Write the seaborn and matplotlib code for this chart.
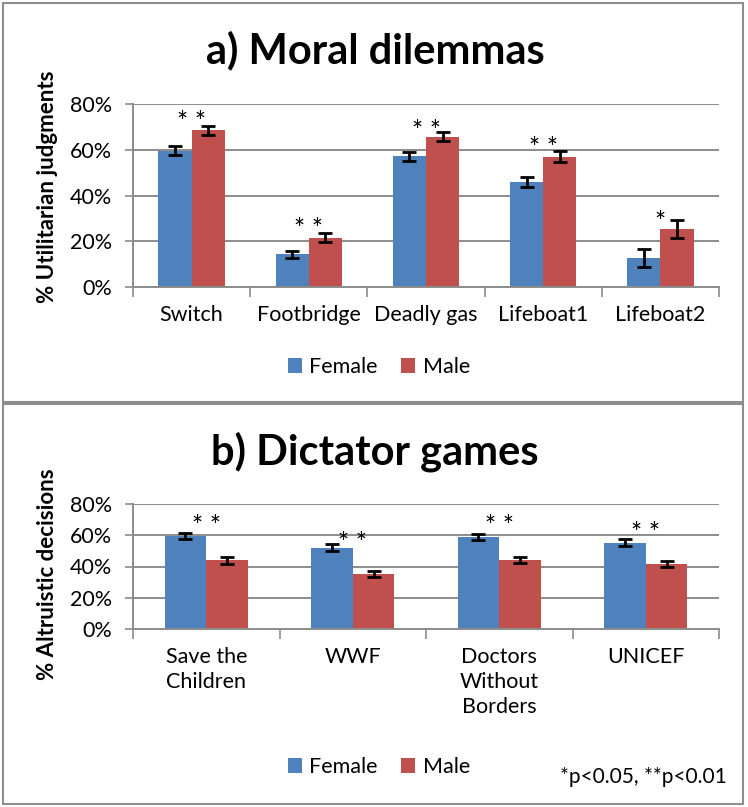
import pandas as pd
import seaborn as sns
import matplotlib.pyplot as plt
from matplotlib.ticker import PercentFormatter, FixedLocator
from matplotlib.patches import Rectangle
from matplotlib.transforms import offset_copy

# Dados (percentagens)
sexos = ['Female', 'Male']

dilemas = ['Switch', 'Footbridge', 'Deadly gas', 'Lifeboat1', 'Lifeboat2']
dilemas_female = [59.5, 14.3, 57.1, 45.8, 12.7]
dilemas_male = [68.5, 21.6, 65.7, 57.0, 25.4]
dilemas_err_female = [2.0, 1.5, 2.0, 2.2, 4.1]
dilemas_err_male = [2.0, 2.0, 2.0, 2.3, 4.1]
dilemas_sig = ['**', '**', '**', '**', '*']
dilemas_sig_y = [73.9, 27.1, 70.1, 62.5, 30.0]

jogos = ['Save the\nChildren', 'WWF', 'Doctors\nWithout\nBorders', 'UNICEF']
jogos_female = [59.3, 52.1, 58.9, 55.3]
jogos_male = [43.9, 35.2, 44.2, 41.4]
jogos_err_female = [1.9, 2.0, 1.9, 2.0]
jogos_err_male = [2.0, 2.0, 2.0, 2.0]
jogos_sig = ['**', '**', '**', '**']
jogos_sig_y = [68.7, 57.4, 68.7, 63.8]

cores = ['#4F81BD', '#C0504D']
cinza = '#8C8C8C'
W, H = 748, 807

plt.rcParams['font.family'] = ['Lato', 'DejaVu Sans']


def monta_df(cats, fem, mas):
    return pd.DataFrame({
        'cat': cats * 2,
        'sexo': ['Female'] * len(cats) + ['Male'] * len(cats),
        'valor': fem + mas,
    })


def painel(fig, rect_px, cats, fem, mas, err_f, err_m, sig, sig_y,
           titulo, ylabel, title_y, ylab_y, leg_y):
    left, top, right, bottom = rect_px
    ax = fig.add_axes([left / W, 1 - bottom / H, (right - left) / W, (bottom - top) / H])
    df = monta_df(cats, fem, mas)
    sns.barplot(data=df, x='cat', y='valor', hue='sexo', hue_order=sexos,
                palette=cores, width=0.567, errorbar=None, saturation=1,
                ax=ax)

    # barras de erro a partir das posições das barras
    for cont, errs in zip(ax.containers, [err_f, err_m]):
        xs = [p.get_x() + p.get_width() / 2 for p in cont.patches]
        hs = [p.get_height() for p in cont.patches]
        ax.errorbar(xs, hs, yerr=errs, fmt='none', ecolor='black',
                    elinewidth=2, capsize=5, capthick=2, zorder=5)

    # o asterisco fica alto na fonte, desce um pouco
    trans = offset_copy(ax.transData, fig=fig, y=-4, units='points')
    for i, (s, y) in enumerate(zip(sig, sig_y)):
        ax.text(i, y, s.replace('**', '* *'), ha='center', va='center',
                fontsize=19, color='black', transform=trans)

    n = len(cats)
    ax.set_xlim(-0.5, n - 0.5)
    ax.set_ylim(0, 80)
    ax.set_yticks([0, 20, 40, 60, 80])
    ax.yaxis.set_major_formatter(PercentFormatter(decimals=0))
    ax.xaxis.set_minor_locator(FixedLocator([i - 0.5 for i in range(n + 1)]))
    ax.tick_params(axis='x', which='major', length=0, pad=13, labelsize=15.5)
    ax.tick_params(axis='x', which='minor', length=7, width=1.2, color=cinza)
    ax.tick_params(axis='y', length=6, width=1.2, color=cinza, pad=9, labelsize=15.5)
    for lab in ax.get_xticklabels():
        lab.set_linespacing(1.3)
        lab.set_va('top')
    ax.yaxis.grid(True, color=cinza, linewidth=1.4)
    ax.set_axisbelow(True)
    for s in ['top', 'right']:
        ax.spines[s].set_visible(False)
    for s in ['left', 'bottom']:
        ax.spines[s].set_color(cinza)
        ax.spines[s].set_linewidth(1.4)
    ax.set_xlabel('')
    ax.set_ylabel('')

    handles, labels = ax.get_legend_handles_labels()
    ax.legend(handles, labels, loc='center', bbox_to_anchor=(379 / W, 1 - leg_y / H),
              bbox_transform=fig.transFigure, ncol=2, frameon=False, fontsize=15.5,
              handlelength=0.65, handleheight=0.65, handletextpad=0.35,
              columnspacing=1.1)

    fig.text(375 / W, 1 - title_y / H, titulo, ha='center', va='center',
             fontsize=30, fontweight='bold')
    fig.text(48 / W, 1 - ylab_y / H, ylabel, ha='center', va='center',
             rotation=90, fontsize=16, fontweight='bold')
    return ax


fig = plt.figure(figsize=(W / 100, H / 100), dpi=100)

# molduras dos dois painéis
for (x0, y0, x1, y1) in [(3, 3, 743, 402), (3, 404, 743, 804)]:
    fig.add_artist(Rectangle((x0 / W, 1 - y1 / H), (x1 - x0) / W, (y1 - y0) / H,
                             transform=fig.transFigure, fill=False,
                             edgecolor='#8E8E8E', linewidth=1.5))

painel(fig, (133, 104, 719, 287), dilemas, dilemas_female, dilemas_male,
       dilemas_err_female, dilemas_err_male, dilemas_sig, dilemas_sig_y,
       'a) Moral dilemmas', '% Utilitarian judgments', 50, 187, 367)

painel(fig, (133, 504, 719, 629), jogos, jogos_female, jogos_male,
       jogos_err_female, jogos_err_male, jogos_sig, jogos_sig_y,
       'b) Dictator games', '% Altruistic decisions', 452, 574, 767)

fig.text(727 / W, 1 - 777 / H, '*p<0.05, **p<0.01', ha='right', va='center',
         fontsize=15)

fig.savefig('out.png', dpi=100, facecolor='white')
